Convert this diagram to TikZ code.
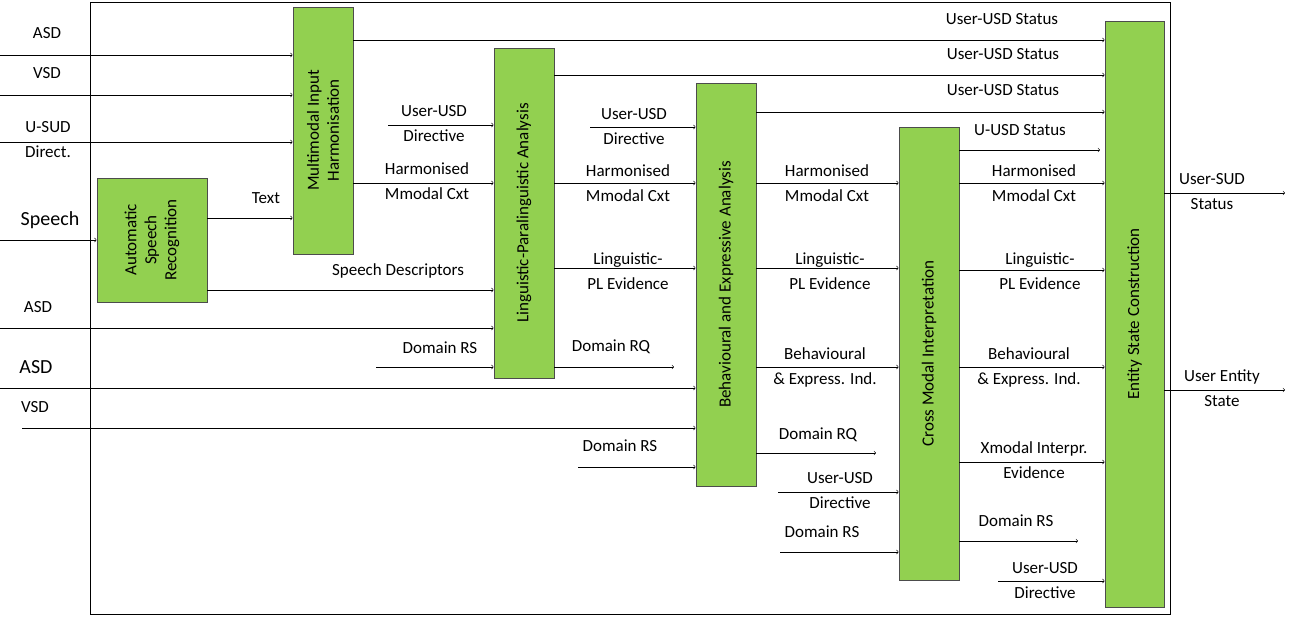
\documentclass[tikz,border=0pt]{standalone}
\usepackage{fontspec}
\setmainfont{Carlito}
\begin{document}
\begin{tikzpicture}[x=1pt,y=-1pt,
  box/.style={draw=black!70,fill={rgb,255:red,146;green,208;blue,80},line width=0.8pt,inner sep=0pt},
  vt/.style={rotate=90,align=center,font=\fontsize{17}{20}\selectfont},
  lb/.style={align=center,font=\fontsize{17}{25}\selectfont,inner sep=0pt},
  ar/.style={->,>=to,line width=0.6pt}]
\useasboundingbox (0,0) rectangle (1292,620);
\draw[line width=0.8pt] (90,2) rectangle (1170,614);
\node[box,minimum width=110,minimum height=124] (asr) at (152,240) {};
\node[vt] at (asr) {Automatic\\Speech\\Recognition};
\node[box,minimum width=60,minimum height=247] (mih) at (323,130.5) {};
\node[vt] at (mih) {Multimodal Input\\Harmonisation};
\node[box,minimum width=60,minimum height=330] (lpa) at (524,213) {};
\node[vt] at (lpa) {Linguistic-Paralinguistic Analysis};
\node[box,minimum width=60,minimum height=403] (bea) at (726,284.5) {};
\node[vt] at (bea) {Behavioural and Expressive Analysis};
\node[box,minimum width=60,minimum height=453] (cmi) at (929,353.5) {};
\node[vt] at (cmi) {Cross Modal Interpretation};
\node[box,minimum width=59,minimum height=586] (esc) at (1134.5,314) {};
\node[vt] at (esc) {Entity State Construction};
% left inputs
\node[lb] (l1) at (47,33) {ASD};
\draw[ar] (0,55) -- (mih.west|-0,55);
\node[lb] (l2) at (47,73) {VSD};
\draw[ar] (0,95) -- (mih.west|-0,95);
\node[lb] (l3) at (48,140) {U-SUD\\Direct.};
\draw[ar] (0,142) -- (mih.west|-0,142);
\node[lb,font=\fontsize{20}{24}\selectfont] (l4) at (50,220) {Speech};
\draw[ar] (0,240) -- (asr.west|-0,240);
\node[lb] at (266,198) {Text};
\draw[ar] (asr.east|-0,218) -- (mih.west|-0,218);
\node[lb] at (398,271) {Speech Descriptors};
\draw[ar] (asr.east|-0,290) -- (lpa.west|-0,290);
\node[lb] at (38,307) {ASD};
\draw[ar] (0,328) -- (lpa.west|-0,328);
\node[lb] at (440,348) {Domain RS};
\draw[ar] (376,367) -- (lpa.west|-0,367);
\node[lb,font=\fontsize{20}{24}\selectfont] at (36,367) {ASD};
\draw[ar] (0,388) -- (bea.west|-0,388);
\node[lb] at (35,407) {VSD};
\draw[ar] (22,428) -- (bea.west|-0,428);
% MIH out
\node[lb] at (434,124) {User-USD\\Directive};
\draw[ar] (388,125) -- (lpa.west|-0,125);
\node[lb] at (427,181) {Harmonised\\Mmodal Cxt};
\draw[ar] (mih.east|-0,183) -- (lpa.west|-0,183);
\node[lb] at (1002,19) {User-USD Status};
\draw[ar] (mih.east|-0,40) -- (esc.west|-0,40);
% LPA out
\node[lb] at (1003,54) {User-USD Status};
\draw[ar] (lpa.east|-0,75) -- (esc.west|-0,75);
\node[lb] at (634,127) {User-USD\\Directive};
\draw[ar] (590,127) -- (bea.west|-0,127);
\node[lb] at (628,183) {Harmonised\\Mmodal Cxt};
\draw[ar] (lpa.east|-0,183) -- (bea.west|-0,183);
\node[lb] at (628,271) {Linguistic-\\PL Evidence};
\draw[ar] (lpa.east|-0,268) -- (bea.west|-0,268);
\node[lb] at (611,347) {Domain RQ};
\draw[ar] (lpa.east|-0,367) -- (674,367);
\node[lb] at (620,446) {Domain RS};
\draw[ar] (578,467) -- (bea.west|-0,467);
% BEA out
\node[lb] at (1003,90) {User-USD Status};
\draw[ar] (bea.east|-0,112) -- (esc.west|-0,112);
\node[lb] at (827,183) {Harmonised\\Mmodal Cxt};
\draw[ar] (bea.east|-0,183) -- (cmi.west|-0,183);
\node[lb] at (830,271) {Linguistic-\\PL Evidence};
\draw[ar] (bea.east|-0,268) -- (cmi.west|-0,268);
\node[lb] at (825,367) {Behavioural\\\& Express. Ind.};
\draw[ar] (bea.east|-0,367) -- (cmi.west|-0,367);
\node[lb] at (818,435) {Domain RQ};
\draw[ar] (bea.east|-0,453) -- (876,453);
\node[lb] at (840,491) {User-USD\\Directive};
\draw[ar] (778,492) -- (cmi.west|-0,492);
\node[lb] at (822,532) {Domain RS};
\draw[ar] (780,552) -- (cmi.west|-0,552);
% CMI out
\node[lb] at (1020,130) {U-USD Status};
\draw[ar] (cmi.east|-0,150) -- (1100,150);
\node[lb] at (1034,183) {Harmonised\\Mmodal Cxt};
\draw[ar] (cmi.east|-0,183) -- (esc.west|-0,183);
\node[lb] at (1040,271) {Linguistic-\\PL Evidence};
\draw[ar] (cmi.east|-0,270) -- (esc.west|-0,270);
\node[lb] at (1029,367) {Behavioural\\\& Express. Ind.};
\draw[ar] (cmi.east|-0,367) -- (esc.west|-0,367);
\node[lb] at (1034,460) {Xmodal Interpr.\\Evidence};
\draw[ar] (cmi.east|-0,462) -- (esc.west|-0,462);
\node[lb] at (1016,521) {Domain RS};
\draw[ar] (cmi.east|-0,541) -- (1078,541);
\node[lb] at (1045,581) {User-USD\\Directive};
\draw[ar] (998,581) -- (esc.west|-0,581);
% ESC out
\node[lb] at (1212,192) {User-SUD\\Status};
\draw[ar] (esc.east|-0,193) -- (1285,193);
\node[lb] at (1222,388) {User Entity\\State};
\draw[ar] (esc.east|-0,390) -- (1285,390);
\end{tikzpicture}
\end{document}
